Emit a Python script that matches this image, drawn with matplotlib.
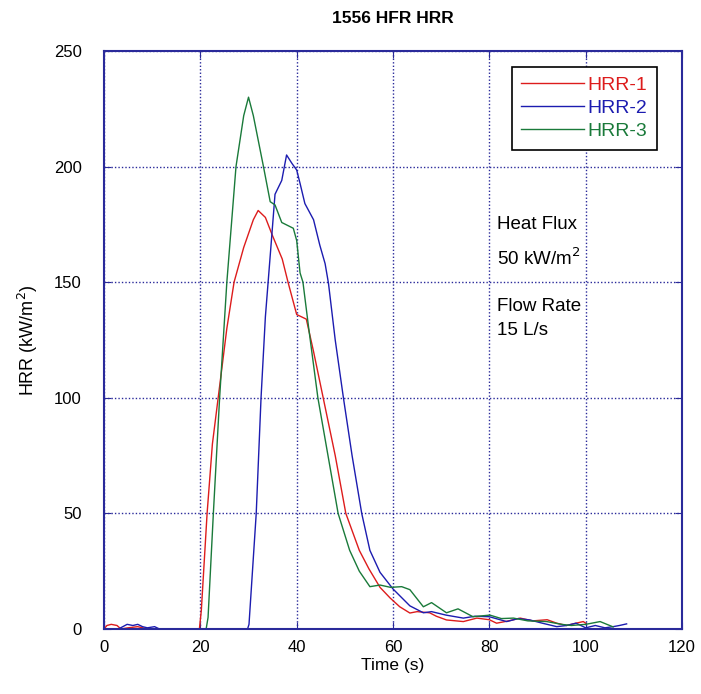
import matplotlib
matplotlib.use("Agg")
import matplotlib.pyplot as plt

plt.rcParams['font.family'] = ['Liberation Sans', 'DejaVu Sans']

# HRR-1 (red)
t1 = [0, 0.6, 1.5, 2.7, 3.5, 5, 7, 8, 9, 12, 19.8, 20.2, 21.4, 22.5, 24, 25.5, 27, 29, 31, 32, 33.5,
      35, 37, 38.2, 40, 42, 43.5, 45.5, 48, 50.2, 53, 55, 57.3, 59.4, 61.4, 63.5, 65, 67.6, 69,
      71.1, 74.6, 77.4, 80, 81.5, 84, 86.4, 89, 92, 94, 96, 98, 99.5, 100]
y1 = [0, 1.5, 2, 1.5, 0, 0.5, 1, 0.5, 0, 0, 0, 8, 50, 80, 105, 130, 150, 165, 177, 181, 178,
      170, 160, 150, 136, 134, 120, 100, 75, 50, 34, 26, 18, 13.4, 9.6, 6.9, 7.5, 7, 5.5,
      3.9, 3.2, 4.7, 4, 2.5, 3.5, 4.7, 3.5, 4, 2.5, 1.5, 2.5, 3.2, 2.5]

# HRR-2 (blue)
t2 = [0, 3, 4.8, 6, 7, 8, 9, 10.5, 11.5, 29.8, 30.1, 31.6, 32.6, 33.5, 34.6, 35.5, 36.9, 37.9,
      39, 40, 40.7, 41.7, 43.5, 44.8, 45.9, 46.6, 48, 49.7, 51.5, 53.5, 55.2, 57.3, 60, 63.5,
      66.3, 68, 71, 74.6, 77, 80, 83.6, 86, 88.4, 91, 94, 96, 98, 100, 102, 104, 105.7, 107, 108.5]
y2 = [0, 0, 2, 1.5, 2, 1, 0.5, 1, 0, 0, 2, 50, 100, 135, 164, 188, 194, 205,
      201.4, 198.5, 192.7, 184, 177, 166, 158, 149.5, 125, 100, 75, 50, 34, 24.5, 17.3, 10,
      7, 7.5, 6, 4.7, 5.5, 5.3, 3.2, 4.5, 3.9, 2.5, 1, 1.5, 2.5, 0.5, 1.5, 0.5, 1, 1.5, 2.2]

# HRR-3 (green)
t3 = [0, 21.2, 21.6, 22.7, 24, 25.5, 27.4, 29, 30, 31, 33.1, 34.5, 35.5, 36.9, 39.3, 40, 40.7,
      41.3, 42.5, 44.4, 46.5, 48.6, 51, 53, 55.2, 57.3, 59.5, 61.8, 63.5, 66.3, 68, 71.1, 73.5,
      76.6, 80.1, 82.5, 85, 88, 91.9, 95, 97, 100, 103, 105.7]
y3 = [0, 0, 5, 50, 100, 150, 200, 222, 230, 222, 200, 184.8, 183.4, 175.8, 173.3, 168, 154,
      150, 130, 100, 75, 50, 34, 25, 18.3, 19, 18, 18.3, 17, 9.6, 11.4, 7, 8.7,
      5.3, 6, 4.5, 4.7, 3.5, 3.2, 2, 1.5, 2, 3.2, 0.9]

red = '#dd1c1c'
blue = '#1c1cb0'
green = '#1a7a3a'
navy = '#2a2a9a'

fig = plt.figure(figsize=(7.01, 6.94), dpi=100)
ax = fig.add_axes([0.1484, 0.0937, 0.8245, 0.8329])

ax.plot(t1, y1, color=red, lw=1, label='HRR-1')
ax.plot(t2, y2, color=blue, lw=1, label='HRR-2')
ax.plot(t3, y3, color=green, lw=1, label='HRR-3')

ax.set_xlim(0, 120)
ax.set_ylim(0, 250)
ax.set_xticks(range(0, 121, 20))
ax.set_yticks(range(0, 251, 50))
ax.grid(True, color=navy, linestyle=(0, (1, 1.5)), linewidth=1)
for s in ax.spines.values():
    s.set_color(navy)
    s.set_linewidth(1.5)
ax.tick_params(direction='in', top=True, right=True, color=navy, length=5, labelsize=12)
ax.tick_params(axis='x', pad=8)
ax.tick_params(axis='y', pad=16)

ax.set_title('1556 HFR HRR', fontsize=12.5, fontweight='bold', pad=20)
ax.set_xlabel('Time (s)', fontsize=12.5, labelpad=2)
ax.set_ylabel('HRR (kW/m$^2$)', fontsize=13, labelpad=10)

leg = ax.legend(loc='upper right', bbox_to_anchor=(0.9567, 0.9723), fontsize=14,
                fancybox=False, framealpha=1, edgecolor='black', handlelength=3.2,
                handletextpad=0.2, borderaxespad=0, labelspacing=0.27, borderpad=0.5)
leg.get_frame().set_linewidth(1.2)
for txt, c in zip(leg.get_texts(), [red, blue, green]):
    txt.set_color(c)

ax.text(81.6, 175, 'Heat Flux', fontsize=13.5, va='center')
ax.text(81.6, 160.5, '50 kW/m$^2$', fontsize=13.5, va='center')
ax.text(81.6, 139.3, 'Flow Rate', fontsize=13.5, va='center')
ax.text(81.6, 129.3, '15 L/s', fontsize=13.5, va='center')

fig.savefig('out.png', dpi=100)
